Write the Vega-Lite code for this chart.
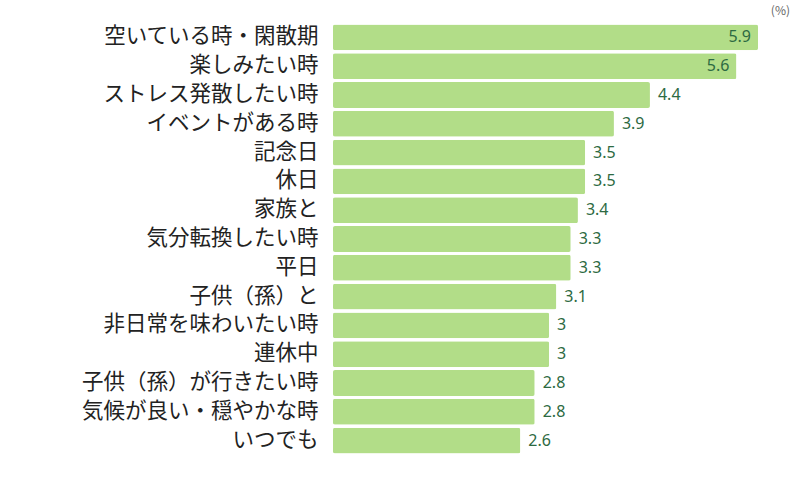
{
  "$schema": "https://vega.github.io/schema/vega-lite/v6.json",
  "width": 425,
  "height": 432,
  "autosize": {"type": "none"},
  "padding": {"left": 333, "top": 23, "right": 42, "bottom": 25},
  "background": "white",
  "title": {"text": "(%)", "anchor": "end", "fontSize": 12, "fontWeight": "normal", "color": "#666", "font": "Noto Sans CJK JP", "dx": 32, "offset": 5},
  "data": {"values": [
    {"cat": "空いている時・閑散期", "v": 5.9},
    {"cat": "楽しみたい時", "v": 5.6},
    {"cat": "ストレス発散したい時", "v": 4.4},
    {"cat": "イベントがある時", "v": 3.9},
    {"cat": "記念日", "v": 3.5},
    {"cat": "休日", "v": 3.5},
    {"cat": "家族と", "v": 3.4},
    {"cat": "気分転換したい時", "v": 3.3},
    {"cat": "平日", "v": 3.3},
    {"cat": "子供（孫）と", "v": 3.1},
    {"cat": "非日常を味わいたい時", "v": 3},
    {"cat": "連休中", "v": 3},
    {"cat": "子供（孫）が行きたい時", "v": 2.8},
    {"cat": "気候が良い・穏やかな時", "v": 2.8},
    {"cat": "いつでも", "v": 2.6}
  ]},
  "encoding": {
    "y": {"field": "cat", "type": "nominal", "sort": null, "scale": {"paddingInner": 0.1, "paddingOuter": 0.05},
      "axis": {"title": null, "domain": false, "ticks": false, "labelFontSize": 21.5, "labelFont": "Noto Sans CJK JP", "labelColor": "#222", "labelPadding": 15, "labelLimit": 0}},
    "x": {"field": "v", "type": "quantitative", "scale": {"domain": [0, 5.9], "nice": false}, "axis": null}
  },
  "layer": [
    {"mark": {"type": "bar", "color": "#b2dd88", "cornerRadius": 2}},
    {"transform": [{"filter": "datum.v >= 5"}],
     "mark": {"type": "text", "align": "right", "dx": -7, "fontSize": 16, "font": "Noto Sans", "color": "#2d6a42"},
     "encoding": {"text": {"field": "v", "type": "quantitative"}}},
    {"transform": [{"filter": "datum.v < 5"}],
     "mark": {"type": "text", "align": "left", "dx": 8, "fontSize": 16, "font": "Noto Sans", "color": "#2d6a42"},
     "encoding": {"text": {"field": "v", "type": "quantitative"}}}
  ],
  "config": {"view": {"stroke": null}}
}
